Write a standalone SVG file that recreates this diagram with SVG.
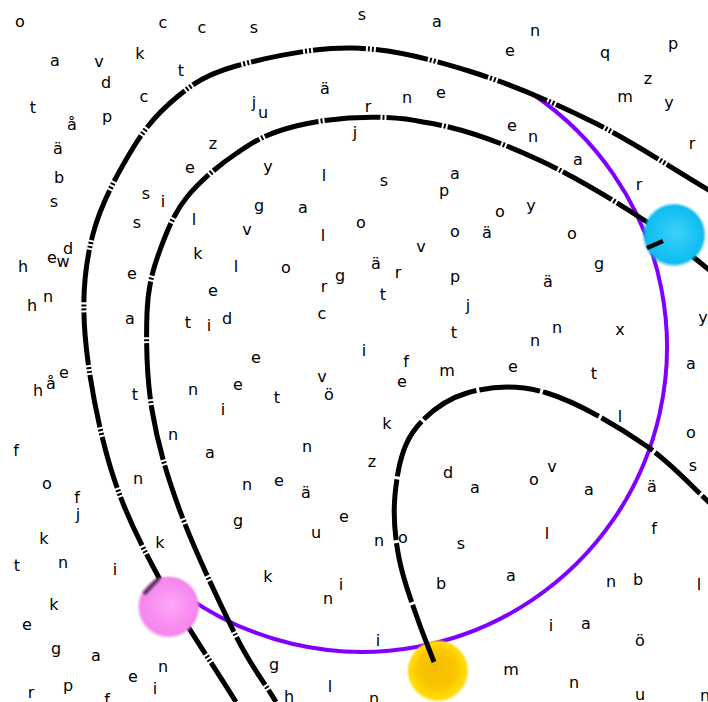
<svg xmlns="http://www.w3.org/2000/svg" width="708" height="702" viewBox="0 0 708 702">
<style>
.t{font-family:"DejaVu Sans","Liberation Sans",sans-serif;font-size:16px;fill:#000;text-anchor:middle}
.bk{fill:none;stroke:#000;stroke-width:5}
.o{stroke-dasharray:53 2 2 2 2 2}
.i{stroke-dasharray:56 2 2 2}
.l{stroke-dasharray:61 3}
</style>
<defs>
<radialGradient id="gPink" cx="0.5" cy="0.5" r="0.5" fx="0.55" fy="0.45">
<stop offset="0" stop-color="#ffa8f7"/><stop offset="0.6" stop-color="#f98ef1"/><stop offset="0.88" stop-color="#f486ed"/><stop offset="1" stop-color="#f486ed" stop-opacity="0"/>
</radialGradient>
<radialGradient id="gCyan" cx="0.5" cy="0.5" r="0.5" fx="0.55" fy="0.45">
<stop offset="0" stop-color="#40d0fa"/><stop offset="0.6" stop-color="#1bc3f4"/><stop offset="0.88" stop-color="#10bcef"/><stop offset="1" stop-color="#10bcef" stop-opacity="0"/>
</radialGradient>
<radialGradient id="gYel" cx="0.5" cy="0.5" r="0.5" fx="0.45" fy="0.42">
<stop offset="0" stop-color="#f0b400"/><stop offset="0.18" stop-color="#f6c000"/><stop offset="0.62" stop-color="#f9c600"/><stop offset="0.78" stop-color="#ffd500"/><stop offset="0.9" stop-color="#ffdc10"/><stop offset="1" stop-color="#ffdc10" stop-opacity="0"/>
</radialGradient>
<filter id="blur" x="-50%" y="-50%" width="200%" height="200%"><feGaussianBlur stdDeviation="0.9"/></filter>
</defs>
<rect width="708" height="702" fill="#fff"/>
<g id="letters" class="t">
<text x="20" y="26.5">o</text><text x="163" y="27.5">c</text><text x="202" y="32.5">c</text><text x="254" y="32.5">s</text><text x="362" y="19.5">s</text><text x="437" y="26.5">a</text><text x="535" y="35.5">n</text><text x="510" y="55.5">e</text><text x="605" y="57.7">q</text><text x="673" y="48.7">p</text>
<text x="55" y="65.5">a</text><text x="99" y="66.5">v</text><text x="140" y="59">k</text><text x="106" y="88">d</text><text x="181" y="76">t</text><text x="648" y="83.5">z</text><text x="625" y="101.5">m</text><text x="669" y="107.7">y</text><text x="144" y="101.5">c</text><text x="325" y="94">ä</text>
<text x="407" y="102.5">n</text><text x="441" y="97.5">e</text><text x="33" y="113">t</text><text x="72" y="130">å</text><text x="107" y="121.7">p</text><text x="254" y="107.5">j</text><text x="263" y="117.5">u</text><text x="368" y="111.5">r</text><text x="512" y="130.5">e</text><text x="533" y="141.5">n</text>
<text x="692" y="148.5">r</text><text x="355" y="137.5">j</text><text x="58" y="154">ä</text><text x="213" y="148.5">z</text><text x="578" y="164.5">a</text><text x="59" y="183">b</text><text x="190" y="172.5">e</text><text x="268" y="171.7">y</text><text x="324" y="181">l</text><text x="384" y="185.5">s</text>
<text x="455" y="178.5">a</text><text x="639" y="189.5">r</text><text x="444" y="195.7">p</text><text x="54" y="206.5">s</text><text x="146" y="198.5">s</text><text x="163" y="207">i</text><text x="259" y="210.7">g</text><text x="303" y="212.5">a</text><text x="500" y="216.5">o</text><text x="531" y="210.7">y</text>
<text x="194" y="225">l</text><text x="361" y="227.5">o</text><text x="137" y="227.5">s</text><text x="247" y="234.5">v</text><text x="323" y="241">l</text><text x="455" y="236.5">o</text><text x="487" y="238">ä</text><text x="572" y="238.5">o</text><text x="421" y="251.5">v</text><text x="68" y="254">d</text>
<text x="52" y="262.5">e</text><text x="63" y="266.5">w</text><text x="23" y="272">h</text><text x="198" y="259">k</text><text x="236" y="272">l</text><text x="132" y="278.5">e</text><text x="286" y="272.5">o</text><text x="376" y="269">ä</text><text x="398" y="277.5">r</text><text x="340" y="280.7">g</text>
<text x="324" y="291.5">r</text><text x="455" y="281.7">p</text><text x="548" y="287">ä</text><text x="599" y="268.7">g</text><text x="383" y="300">t</text><text x="468" y="310.5">j</text><text x="213" y="295.5">e</text><text x="32" y="311">h</text><text x="48" y="301.5">n</text><text x="130" y="323.5">a</text>
<text x="188" y="328">t</text><text x="209" y="331">i</text><text x="227" y="324">d</text><text x="322" y="318.5">c</text><text x="703" y="322.7">y</text><text x="557" y="332.5">n</text><text x="620" y="334.5">x</text><text x="454" y="338">t</text><text x="535" y="345.5">n</text><text x="364" y="356">i</text>
<text x="406" y="367">f</text><text x="256" y="362.5">e</text><text x="447" y="375.5">m</text><text x="513" y="371.5">e</text><text x="594" y="379">t</text><text x="691" y="368.5">a</text><text x="38" y="396">h</text><text x="51" y="389">å</text><text x="64" y="377.5">e</text><text x="135" y="400">t</text>
<text x="193" y="394.5">n</text><text x="238" y="389.5">e</text><text x="322" y="381.5">v</text><text x="329" y="400">ö</text><text x="277" y="403">t</text><text x="402" y="386.5">e</text><text x="223" y="415">i</text><text x="620" y="422">l</text><text x="387" y="429">k</text><text x="691" y="437.5">o</text>
<text x="173" y="439.5">n</text><text x="16" y="456">f</text><text x="307" y="451.5">n</text><text x="210" y="457.5">a</text><text x="372" y="466.5">z</text><text x="693" y="470.5">s</text><text x="448" y="478">d</text><text x="552" y="471.5">v</text><text x="534" y="484.5">o</text><text x="475" y="492.5">a</text>
<text x="589" y="494.5">a</text><text x="652" y="492">ä</text><text x="138" y="483.5">n</text><text x="247" y="489.5">n</text><text x="279" y="485.5">e</text><text x="306" y="498">ä</text><text x="47" y="488.5">o</text><text x="77" y="503">f</text><text x="78" y="519.5">j</text><text x="344" y="521.5">e</text>
<text x="654" y="534">f</text><text x="238" y="525.7">g</text><text x="316" y="537.5">u</text><text x="547" y="539">l</text><text x="44" y="544">k</text><text x="160" y="548">k</text><text x="379" y="545.5">n</text><text x="403" y="542.5">o</text><text x="461" y="548.5">s</text><text x="17" y="571">t</text>
<text x="63" y="567.5">n</text><text x="115" y="575">i</text><text x="511" y="580.5">a</text><text x="268" y="582">k</text><text x="611" y="586.5">n</text><text x="638" y="585">b</text><text x="699" y="590">l</text><text x="341" y="590">i</text><text x="441" y="589">b</text><text x="328" y="603.5">n</text>
<text x="54" y="610">k</text><text x="27" y="629.5">e</text><text x="551" y="631">i</text><text x="586" y="628.5">a</text><text x="378" y="646">i</text><text x="640" y="646">ö</text><text x="56" y="653.7">g</text><text x="96" y="660.5">a</text><text x="133" y="681.5">e</text><text x="163" y="671.5">n</text>
<text x="155" y="694">i</text><text x="274" y="669.7">g</text><text x="511" y="674.5">m</text><text x="31" y="697.5">r</text><text x="68" y="690.7">p</text><text x="107" y="705">f</text><text x="289" y="702">h</text><text x="330" y="692">l</text><text x="374" y="703.5">n</text><text x="574" y="687.5">n</text>
<text x="640" y="700">u</text><text x="705" y="701">n</text>
</g>
<g id="connectors">
<path id="purple-arc" d="M531.7,93.5 A305,305 0 1 1 187.1,596.8" fill="none" stroke="#8000ff" stroke-width="4"/>
<path id="outer" class="bk o" d="M712,192 C673,169 635,143 595,123 C555,103 512,84.5 472,72 C432,59.5 392,49 353,48 C314,47 265,58 236,66 C207,74 194,83 177,97 C160,111 147,125 133,148 C119,171 101,203 93,234 C85,265 82,295 85,334 C88,373 98,426 110,466 C122,506 137,537 158,576 C179,615 210,660 236,702"/>
<path id="inner" class="bk i" d="M712,272 C690,255 676,241 647,222 C618,203 576,177 539,160 C502,143 463.5,128 423,122 C382,113 327,118 296,126 C265,134 255,141 237,153 C219,165 200,181 187,197 C174,213 167,231 160,250 C153,269 148,286 147,313 C146,340 146.5,377 152,410 C157.5,443 166,473 180,511 C194,549 220,604 236,636 C252,668 263,680 276,702"/>
</g>
<g id="ball-pink">
<circle cx="168.5" cy="607" r="32" fill="url(#gPink)"/>
<path d="M144,594 L159,578" stroke="#1a1a1a" stroke-width="4" opacity="0.75" filter="url(#blur)"/>
</g>
<g id="ball-cyan">
<circle cx="674" cy="235" r="32.5" fill="url(#gCyan)"/>
<path d="M647,248 L663,241" stroke="#000" stroke-width="4.5"/>
</g>
<g id="ball-yellow">
<circle cx="438" cy="671" r="31.5" fill="url(#gYel)"/>
</g>
<g id="connectors-top">
<path id="loop" class="bk l" d="M434,662 C428.7,648 424,637 418,620 C412,603 403,579 399,558 C395,537 393,516 395,495 C397,474 401,449 413,432 C425,415 445,399.5 467,393 C489,386.5 517,384 547,393 C577,402 617.5,426 645,445 C672.5,464 690,485 712,505"/>
</g>
</svg>
